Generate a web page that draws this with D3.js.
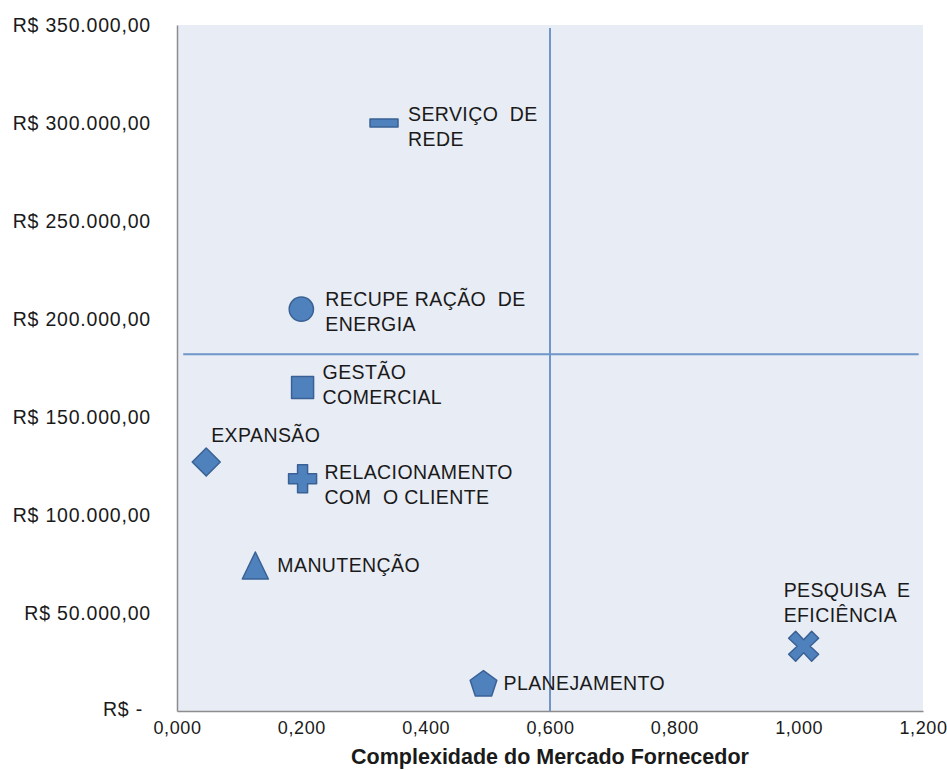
<!DOCTYPE html>
<html>
<head>
<meta charset="utf-8">
<script src="https://cdn.jsdelivr.net/npm/d3@7"></script>
<style>
  body { margin: 0; background: #fff; }
  text { font-family: "Liberation Sans", Arial, sans-serif; }
</style>
</head>
<body>
<svg id="chart"></svg>
<script>
// data
var names = ["SERVIÇO  DE|REDE", "RECUPE RAÇÃO  DE|ENERGIA", "GESTÃO|COMERCIAL", "EXPANSÃO",
             "RELACIONAMENTO|COM  O CLIENTE", "MANUTENÇÃO", "PESQUISA  E|EFICIÊNCIA", "PLANEJAMENTO"];
var xValues = [0.333, 0.200, 0.202, 0.047, 0.202, 0.126, 1.008, 0.493];
var yValues = [300000, 205000, 165000, 127000, 118500, 74000, 33000, 14000];
var shapes = ["dash", "circle", "square", "diamond", "plus", "triangle", "cross", "pentagon"];

var xTicks = [0, 0.2, 0.4, 0.6, 0.8, 1.0, 1.2];
var yTicks = [0, 50000, 100000, 150000, 200000, 250000, 300000, 350000];

// quadrant divider lines
var xMid = 0.6, yMid = 182000;
var hLineFrom = 0.01, hLineTo = 1.193;
var vLineFrom = 0, vLineTo = 348500;

// label offsets from marker (px)
var labelOffsets = [[24, -9], [24, -10], [20, -15], [5, -27], [22, -7], [22, -1], [-20, -56], [20, 0]];

var width = 947, height = 770;
var margin = {left: 177, right: 24, top: 25, bottom: 59};

var svg = d3.select("#chart").attr("width", width).attr("height", height);

var x = d3.scaleLinear().domain([0, 1.2]).range([margin.left, width - margin.right]);
var y = d3.scaleLinear().domain([0, 350000]).range([height - margin.bottom, margin.top]);

var br = d3.formatLocale({decimal: ",", thousands: ".", grouping: [3], currency: ["R$ ", ""]});
var fmtY = br.format(",.2f");
var fmtX = br.format(".3f");

svg.append("rect")
  .attr("x", x(0)).attr("y", y(350000))
  .attr("width", x(1.2) - x(0)).attr("height", y(0) - y(350000))
  .attr("fill", "#e8ecf4");

// axes
var yAxis = svg.append("g")
  .attr("transform", `translate(${x(0)},0)`)
  .call(d3.axisLeft(y).tickValues(yTicks).tickSize(0).tickPadding(26)
    .tickFormat(d => d === 0 ? "R$ -" : "R$ " + fmtY(d)));
yAxis.select(".domain").attr("stroke", "#8c8c8c").attr("stroke-width", 1.5);
yAxis.selectAll("text").attr("font-size", 19.5).attr("letter-spacing", 0.8).attr("fill", "#1a1a1a")
  .attr("dx", d => d === 0 ? -8 : 0).attr("dy", d => d === 0 ? "0.22em" : "0.32em");

var xAxis = svg.append("g")
  .attr("transform", `translate(0,${y(0)})`)
  .call(d3.axisBottom(x).tickValues(xTicks).tickSize(0).tickPadding(10).tickFormat(fmtX));
xAxis.select(".domain").attr("stroke", "#8c8c8c").attr("stroke-width", 1.5);
xAxis.selectAll("text").attr("font-size", 18).attr("letter-spacing", 0.6).attr("fill", "#1a1a1a");

svg.append("text")
  .attr("x", (x(0) + x(1.2)) / 2).attr("y", 764)
  .attr("text-anchor", "middle")
  .attr("font-size", 21.5).attr("font-weight", "bold").attr("fill", "#1a1a1a")
  .text("Complexidade do Mercado Fornecedor");

// quadrant lines
svg.append("line")
  .attr("x1", x(hLineFrom)).attr("x2", x(hLineTo))
  .attr("y1", y(yMid)).attr("y2", y(yMid))
  .attr("stroke", "#6f95c9").attr("stroke-width", 2);
svg.append("line")
  .attr("x1", x(xMid)).attr("x2", x(xMid))
  .attr("y1", y(vLineFrom)).attr("y2", y(vLineTo))
  .attr("stroke", "#6f95c9").attr("stroke-width", 2);

function markerPath(shape) {
  switch (shape) {
    case "dash": return "M-14,-4H14V4H-14Z";
    case "circle": return d3.symbol(d3.symbolCircle, 460)();
    case "square": return "M-11,-11H11V11H-11Z";
    case "diamond": return "M0,-14L14,0L0,14L-14,0Z";
    case "plus": return "M-5,-14H5V-5H14V5H5V14H-5V5H-14V-5H-5Z";
    case "triangle": return "M0,-14L13,13H-13Z";
    case "cross":
      var a = 7, b = 15, c = 6.5;
      return d3.line()([[-b + a, -b], [0, -c], [b - a, -b], [b, -b + a], [c, 0], [b, b - a],
                        [b - a, b], [0, c], [-b + a, b], [-b, b - a], [-c, 0], [-b, -b + a]]) + "Z";
    case "pentagon":
      var pts = d3.range(5).map(i => {
        var t = -Math.PI / 2 + i * 2 * Math.PI / 5;
        return [14 * Math.cos(t), 14 * Math.sin(t) + 1];
      });
      return d3.line()(pts) + "Z";
  }
}

var points = d3.range(names.length).map(i => ({
  name: names[i], x: xValues[i], y: yValues[i], shape: shapes[i], off: labelOffsets[i]
}));

var g = svg.selectAll("g.pt").data(points).enter().append("g")
  .attr("class", "pt")
  .attr("transform", d => `translate(${x(d.x)},${y(d.y)})`);

g.append("path")
  .attr("d", d => markerPath(d.shape))
  .attr("fill", "#4f81bd")
  .attr("stroke", "#3a6195")
  .attr("stroke-width", 1.5)
  .attr("stroke-linejoin", "round");

g.each(function(d) {
  var lines = d.name.split("|");
  var t = d3.select(this).append("text")
    .attr("x", d.off[0]).attr("y", d.off[1])
    .attr("font-size", 19.5).attr("fill", "#1a1a1a")
    .attr("letter-spacing", 0.4)
    .style("white-space", "pre");
  lines.forEach((ln, k) => {
    t.append("tspan").attr("x", d.off[0]).attr("dy", k === 0 ? "0.35em" : 25).text(ln);
  });
});
</script>
</body>
</html>
